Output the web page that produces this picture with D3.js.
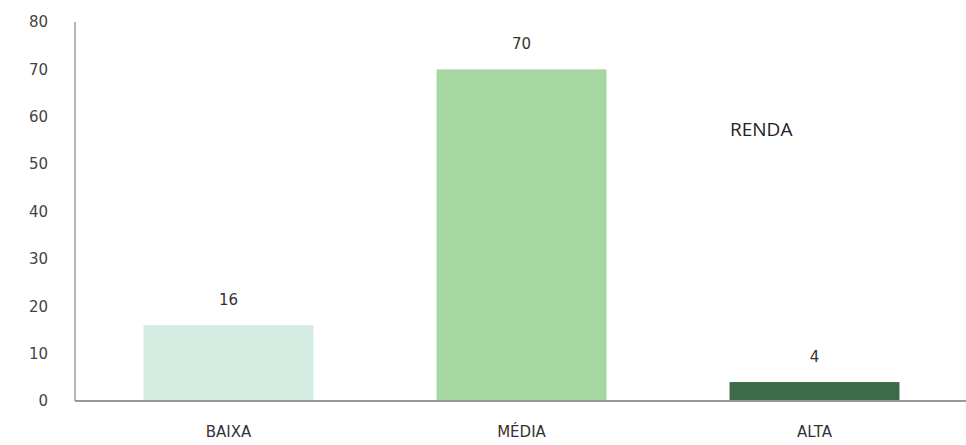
<!DOCTYPE html>
<html><head><meta charset="utf-8">
<script src="https://cdn.jsdelivr.net/npm/d3@7"></script>
<style>body{margin:0;background:#fff}svg{display:block}</style>
</head><body>
<script>
const categories = ["BAIXA", "MÉDIA", "ALTA"];
const values = [16, 70, 4];
const colors = ["#d3ebe0", "#a6d7a3", "#3d6a47"];
const yTicks = [0, 10, 20, 30, 40, 50, 60, 70, 80];
const title = "RENDA";

const W = 966, H = 445;
const svg = d3.select("body").append("svg").attr("width", W).attr("height", H);

const x = d3.scaleBand().domain(categories).range([82, 961]).paddingInner(0.42).paddingOuter(0.21);
const y = d3.scaleLinear().domain([0, 80]).range([401, 22]);

const font = "'DejaVu Sans', sans-serif";

// y axis
const ya = svg.append("g").attr("transform", "translate(75,0)")
  .call(d3.axisLeft(y).tickValues(yTicks).tickSize(0).tickPadding(27));
ya.select(".domain").attr("stroke", "#b5b5b5").attr("stroke-width", 2).attr("d", `M0,${y(80)}V${y(0)}`);
ya.selectAll("text").attr("font-family", font).attr("font-size", 15).attr("fill", "#444");

// bars
svg.append("g").selectAll("rect").data(values).join("rect")
  .attr("x", (d, i) => x(categories[i]))
  .attr("width", x.bandwidth())
  .attr("y", d => y(d))
  .attr("height", d => y(0) - y(d))
  .attr("fill", (d, i) => colors[i]);

// x axis
const xa = svg.append("g").attr("transform", `translate(0,${y(0)})`)
  .call(d3.axisBottom(x).tickSize(0).tickPadding(25));
xa.select(".domain").attr("stroke", "#9a9a9a").attr("stroke-width", 2).attr("d", `M75,0H966`);
xa.selectAll("text").attr("font-family", font).attr("font-size", 15).attr("fill", "#333");

// value labels
svg.append("g").selectAll("text").data(values).join("text")
  .attr("x", (d, i) => x(categories[i]) + x.bandwidth() / 2)
  .attr("y", d => y(d) - 20)
  .attr("text-anchor", "middle")
  .attr("font-family", font).attr("font-size", 15).attr("fill", "#333")
  .text(d => d);

// title
svg.append("text").attr("x", 730).attr("y", 136)
  .attr("font-family", "'Open Sans', sans-serif").attr("font-size", 19).attr("fill", "#222")
  .text(title);
</script>
</body></html>
